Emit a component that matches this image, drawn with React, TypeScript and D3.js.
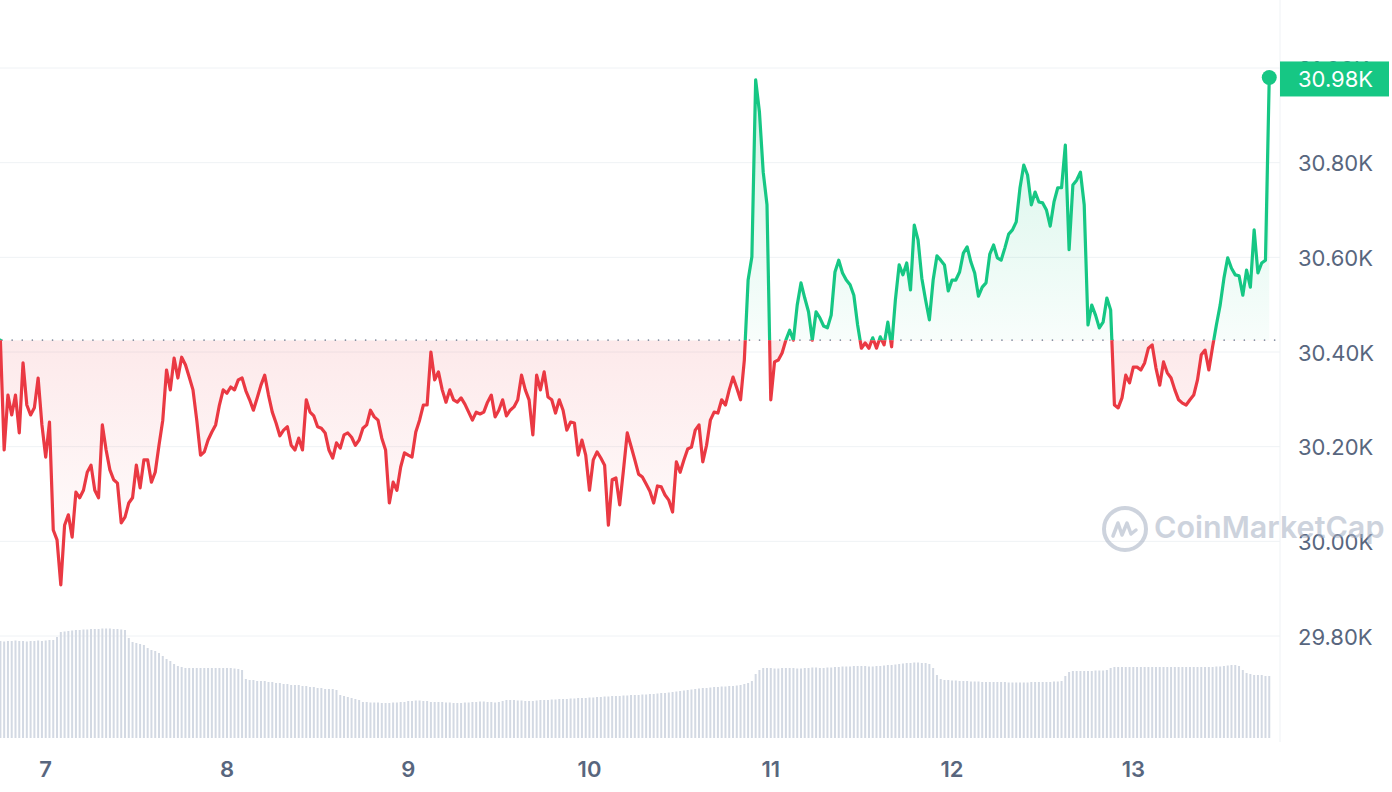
import React from 'react';
import * as d3 from 'd3';

const W = 1392;
const H = 792;

// 30-minute samples starting 6 Jul 18:00 (UTC)
const startTime = Date.UTC(2023, 6, 6, 18, 0);
const stepMs = 30 * 60 * 1000;

const prices = [
  30425,30193,30309,30267,30309,30229,30377,30288,30267,30282,
  30345,30246,30178,30252,30024,30003,29908,30034,30056,30009,
  30104,30092,30108,30146,30161,30108,30092,30246,30193,30151,
  30130,30123,30039,30051,30081,30092,30161,30113,30172,30172,
  30125,30146,30203,30256,30362,30320,30387,30345,30389,30373,
  30347,30320,30256,30182,30189,30214,30231,30246,30288,30320,
  30313,30326,30320,30341,30345,30318,30299,30277,30303,30330,
  30351,30309,30273,30250,30223,30235,30242,30203,30193,30218,
  30193,30299,30273,30265,30242,30239,30229,30193,30176,30208,
  30197,30225,30229,30220,30203,30214,30239,30246,30277,30263,
  30256,30218,30193,30081,30125,30108,30157,30187,30182,30178,
  30231,30256,30288,30288,30400,30341,30358,30320,30294,30320,
  30299,30294,30303,30290,30273,30256,30273,30269,30273,30294,
  30309,30263,30277,30299,30265,30277,30284,30299,30351,30320,
  30299,30225,30351,30320,30358,30305,30299,30271,30299,30277,
  30235,30252,30250,30182,30214,30182,30108,30172,30189,30176,
  30161,30034,30130,30134,30077,30151,30229,30201,30172,30142,
  30136,30121,30106,30081,30117,30115,30098,30087,30062,30168,
  30146,30172,30195,30199,30235,30246,30168,30203,30256,30273,
  30271,30299,30288,30320,30347,30324,30299,30383,30552,30601,
  30975,30907,30780,30711,30299,30379,30383,30398,30425,30446,
  30425,30499,30546,30514,30485,30425,30485,30472,30455,30451,
  30478,30569,30594,30567,30552,30542,30520,30457,30408,30419,
  30408,30430,30408,30432,30415,30463,30411,30510,30584,30563,
  30588,30531,30668,30637,30556,30510,30468,30552,30603,30594,
  30584,30529,30552,30552,30569,30609,30622,30590,30567,30518,
  30537,30546,30607,30626,30599,30594,30620,30649,30658,30675,
  30747,30795,30774,30711,30738,30717,30715,30700,30666,30717,
  30747,30747,30837,30616,30753,30763,30780,30711,30457,30499,
  30478,30451,30463,30514,30489,30288,30282,30303,30351,30335,
  30368,30368,30362,30377,30408,30415,30366,30330,30379,30356,
  30345,30320,30299,30292,30288,30299,30309,30341,30394,30404,
  30362,30411,30457,30499,30556,30599,30577,30563,30561,30520,
  30573,30537,30658,30567,30588,30594,30980,
];

// volume (billions USD)
const volumes = [
  19.4,19.3,19.4,19.4,19.5,19.4,19.4,19.3,19.4,19.4,19.5,19.4,19.5,19.6,19.6,
  20.2,21.2,
  21.3,21.4,21.5,21.6,21.6,21.7,21.7,21.8,21.8,21.8,21.9,21.9,21.9,21.8,21.8,21.7,21.6,
  20.0,
  19.2,19.0,18.8,18.6,
  18.0,17.6,17.4,17.0,16.4,
  15.8,15.4,
  14.8,14.4,14.2,
  14.0,14.0,14.0,14.0,14.0,14.0,14.0,14.0,14.0,14.0,14.0,14.0,14.0,13.9,13.8,13.6,
  11.8,
  11.6,11.6,11.4,11.4,11.4,11.2,11.2,11.0,11.0,10.8,10.8,10.6,10.6,10.6,
  10.4,10.4,10.2,10.2,10.0,10.0,9.8,9.8,9.8,9.6,
  8.6,8.4,8.2,8.0,7.8,7.6,
  7.2,7.2,7.1,7.1,7.1,7.0,7.0,7.0,7.1,7.1,
  7.2,7.2,7.4,7.4,7.5,7.5,7.4,7.4,7.2,7.2,
  7.2,7.2,7.1,7.1,7.0,7.0,7.0,7.1,7.1,7.2,
  7.2,7.3,7.3,7.2,7.2,7.1,7.2,7.4,7.6,7.6,
  7.6,7.5,7.5,7.4,7.4,7.4,7.5,
  7.6,7.6,7.6,7.7,7.7,7.8,7.8,7.8,7.9,7.9,8.0,8.0,8.0,8.1,8.1,8.2,
  8.2,8.3,8.3,8.4,8.4,8.4,8.5,8.5,8.6,8.6,8.6,8.7,8.7,8.8,8.8,8.9,9.0,9.0,9.1,9.2,9.3,
  9.4,9.5,9.6,9.7,9.8,9.9,10.0,10.0,10.1,10.2,10.2,10.3,10.3,10.4,10.4,10.5,
  10.6,10.8,11.0,11.4,
  12.8,13.6,
  14.0,14.0,14.0,13.9,13.9,14.0,14.0,14.0,14.0,13.9,13.9,14.0,14.0,14.1,14.1,14.0,14.0,14.1,14.1,14.2,
  14.2,14.3,14.3,14.3,14.4,14.4,14.4,14.4,14.3,14.3,14.4,14.4,14.5,14.6,14.6,14.7,
  14.8,14.9,15.0,15.0,15.1,15.1,15.0,15.0,14.8,
  14.0,12.6,
  11.8,11.6,11.6,11.5,11.5,11.4,11.4,11.4,11.3,11.3,
  11.3,11.2,11.2,11.2,11.2,11.2,11.2,11.2,11.1,11.1,
  11.1,11.1,11.1,11.1,11.2,11.2,11.2,11.2,11.2,11.2,
  11.3,11.3,11.4,
  12.4,
  13.2,13.4,13.4,13.4,13.4,13.4,13.4,13.5,13.5,13.5,13.6,
  14.0,14.2,14.2,14.2,14.2,14.2,14.2,14.2,14.2,14.2,
  14.2,14.2,14.2,14.2,14.2,14.2,14.2,14.2,14.2,14.2,
  14.2,14.2,14.2,14.2,14.2,14.2,14.2,14.2,14.3,14.3,
  14.4,14.5,14.6,
  14.6,14.4,
  13.6,
  13.0,12.8,12.6,12.6,12.6,12.4,12.4,
];

const yTickValues = [29800, 30000, 30200, 30400, 30600, 30800, 31000];
const xTickDays = [7, 8, 9, 10, 11, 12, 13];
const watermarkText = 'CoinMarketCap';

const GREEN = '#16c784';
const RED = '#ea3943';
const AXIS_TEXT = '#58667e';
const GRID = '#eff2f5';
const FONT = 'Inter, "Noto Sans", sans-serif';

export default function App() {
  const plotRight = 1280;
  const x = d3
    .scaleUtc()
    .domain([new Date(Date.UTC(2023, 6, 7)), new Date(Date.UTC(2023, 6, 13))])
    .range([45.7, 1133.3]);
  const y = d3.scaleLinear().domain([29800, 31000]).range([636, 68]);
  const v = d3.scaleLinear().domain([0, 24]).range([738, 618]);

  const n = Math.min(prices.length, volumes.length);
  const data = d3.range(n).map((i) => ({
    t: new Date(startTime + i * stepMs),
    p: prices[i],
    v: volumes[i],
  }));
  const base = prices[0];
  const by = y(base);

  const line = d3
    .line<any>()
    .x((d) => x(d.t))
    .y((d) => y(d.p));
  const area = d3
    .area<any>()
    .x((d) => x(d.t))
    .y0(by)
    .y1((d) => y(d.p));

  const linePath = line(data) || '';
  const areaPath = area(data) || '';
  const last = data[data.length - 1];
  const lx = x(last.t);
  const ly = y(last.p);

  const fmt = (val: number) => (val / 1000).toFixed(2) + 'K';

  const logoCx = 1125;
  const logoCy = 529;

  return (
    <svg
      width={W}
      height={H}
      viewBox={`0 0 ${W} ${H}`}
      style={{ position: 'absolute', left: 0, top: 0, display: 'block', background: '#fff' }}
      fontFamily={FONT}
    >
      <defs>
        <clipPath id="clip-above">
          <rect x={0} y={0} width={plotRight} height={by} />
        </clipPath>
        <clipPath id="clip-below">
          <rect x={0} y={by} width={plotRight} height={H - by} />
        </clipPath>
        <linearGradient id="grad-green" gradientUnits="userSpaceOnUse" x1={0} y1={70} x2={0} y2={by}>
          <stop offset="0%" stopColor={GREEN} stopOpacity={0.2} />
          <stop offset="100%" stopColor={GREEN} stopOpacity={0.03} />
        </linearGradient>
        <linearGradient id="grad-red" gradientUnits="userSpaceOnUse" x1={0} y1={by} x2={0} y2={590}>
          <stop offset="0%" stopColor={RED} stopOpacity={0.11} />
          <stop offset="100%" stopColor={RED} stopOpacity={0.0} />
        </linearGradient>
      </defs>

      <rect x={0} y={0} width={W} height={H} fill="#fff" />

      {/* grid */}
      {yTickValues.map((tv) => (
        <line key={'g' + tv} x1={0} x2={plotRight} y1={y(tv)} y2={y(tv)} stroke={GRID} strokeWidth={1} />
      ))}
      <line x1={plotRight} x2={plotRight} y1={0} y2={742} stroke={GRID} strokeWidth={1} />

      {/* volume bars */}
      {data.map((d, i) => (
        <rect
          key={'v' + i}
          x={x(d.t) - 1}
          y={v(d.v)}
          width={2}
          height={v(0) - v(d.v)}
          fill="#d3d9e3"
        />
      ))}

      {/* areas */}
      <path d={areaPath} fill="url(#grad-green)" clipPath="url(#clip-above)" />
      <path d={areaPath} fill="url(#grad-red)" clipPath="url(#clip-below)" />

      {/* baseline */}
      <line
        x1={2}
        x2={plotRight}
        y1={by}
        y2={by}
        stroke="#808a9d"
        strokeWidth={1.6}
        strokeDasharray="0.1 10"
        strokeLinecap="round"
      />

      {/* lines */}
      <path
        d={linePath}
        fill="none"
        stroke={GREEN}
        strokeWidth={3.2}
        strokeLinejoin="round"
        strokeLinecap="round"
        clipPath="url(#clip-above)"
      />
      <path
        d={linePath}
        fill="none"
        stroke={RED}
        strokeWidth={3.2}
        strokeLinejoin="round"
        strokeLinecap="round"
        clipPath="url(#clip-below)"
      />

      {/* y labels */}
      {yTickValues.map((tv) => (
        <text key={'yl' + tv} x={1298} y={y(tv) + 8.5} fontSize={22} fill={AXIS_TEXT} fontWeight={400}>
          {fmt(tv)}
        </text>
      ))}

      {/* x labels */}
      {xTickDays.map((day) => (
        <text
          key={'xl' + day}
          x={x(new Date(Date.UTC(2023, 6, day)))}
          y={777}
          fontSize={22}
          fontWeight={600}
          fill={AXIS_TEXT}
          textAnchor="middle"
        >
          {String(day)}
        </text>
      ))}

      {/* last price marker */}
      <circle cx={lx} cy={ly} r={7.5} fill={GREEN} />
      <rect x={plotRight} y={ly - 16} width={109} height={35} fill={GREEN} />
      <text x={1298} y={ly + 10} fontSize={22} fill="#ffffff">
        {fmt(last.p)}
      </text>

      {/* watermark */}
      <g opacity={0.55}>
        <circle cx={logoCx} cy={logoCy} r={21} fill="none" stroke="#a6b0c3" strokeWidth={4} />
        <path
          d={`M${logoCx - 12},${logoCy + 7} L${logoCx - 7},${logoCy - 6} L${logoCx - 3},${logoCy + 6} L${logoCx + 2},${logoCy - 6} L${logoCx + 6},${logoCy + 5} L${logoCx + 11},${logoCy + 1}`}
          fill="none"
          stroke="#a6b0c3"
          strokeWidth={3.5}
          strokeLinejoin="round"
          strokeLinecap="round"
        />
        <text x={1154} y={538} fontSize={30.5} fontWeight={600} fill="#a6b0c3">
          {watermarkText}
        </text>
      </g>
    </svg>
  );
}
